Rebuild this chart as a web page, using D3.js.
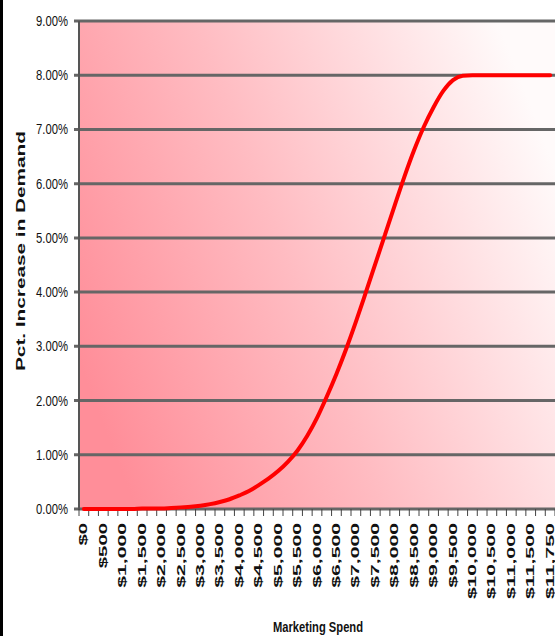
<!DOCTYPE html>
<html>
<head>
<meta charset="utf-8">
<script src="https://cdn.jsdelivr.net/npm/d3@7"></script>
<style>
  html, body { margin: 0; padding: 0; background: #ffffff; }
  svg { display: block; }
  text { font-family: "Liberation Sans", Arial, sans-serif; fill: #111; }
</style>
</head>
<body>
<svg id="chart" width="555" height="636"></svg>
<script>
// Marketing spend levels (category axis, $250 steps)
const spendLevels = [
  0, 250, 500, 750, 1000, 1250, 1500, 1750, 2000, 2250, 2500, 2750,
  3000, 3250, 3500, 3750, 4000, 4250, 4500, 4750, 5000, 5250, 5500, 5750,
  6000, 6250, 6500, 6750, 7000, 7250, 7500, 7750, 8000, 8250, 8500, 8750,
  9000, 9250, 9500, 9750, 10000, 10250, 10500, 10750, 11000, 11250, 11500, 11750, 12000
];

// Percent increase in demand at each spend level
const demandPct = [
  0.00, 0.00, 0.00, 0.00, 0.00, 0.00, 0.01, 0.01, 0.01, 0.02, 0.03, 0.04,
  0.06, 0.09, 0.13, 0.18, 0.25, 0.33, 0.44, 0.56, 0.70, 0.87, 1.08, 1.35,
  1.68, 2.07, 2.49, 2.95, 3.45, 3.98, 4.52, 5.06, 5.60, 6.13, 6.62, 7.05,
  7.41, 7.71, 7.91, 7.99, 8.00, 8.00, 8.00, 8.00, 8.00, 8.00, 8.00, 8.00, 8.00
];

// Labelled categories on the x axis (every other level)
const xTickLabels = [
  "$0", "$500", "$1,000", "$1,500", "$2,000", "$2,500", "$3,000", "$3,500",
  "$4,000", "$4,500", "$5,000", "$5,500", "$6,000", "$6,500", "$7,000", "$7,500",
  "$8,000", "$8,500", "$9,000", "$9,500", "$10,000", "$10,500", "$11,000", "$11,500", "$11,750"
];

const yTicks = [0, 1, 2, 3, 4, 5, 6, 7, 8, 9];

const svg = d3.select("#chart");
const plot = { left: 79, right: 555, top: 21, bottom: 509 };

const x = d3.scaleBand()
  .domain(d3.range(spendLevels.length))
  .range([plot.left, plot.right])
  .paddingInner(0).paddingOuter(0);

const y = d3.scaleLinear()
  .domain([0, 9])
  .range([plot.bottom, plot.top]);

// Left frame edge
svg.append("rect")
  .attr("x", 0).attr("y", 0).attr("width", 3).attr("height", 636)
  .attr("fill", "#000");

// Plot background gradient
const defs = svg.append("defs");
const grad = defs.append("linearGradient")
  .attr("id", "bgGrad")
  .attr("x1", "0").attr("y1", "0.7")
  .attr("x2", "1").attr("y2", "0.3");
grad.append("stop").attr("offset", "0").attr("stop-color", "#ff8e99");
grad.append("stop").attr("offset", "0.45").attr("stop-color", "#ffbcc2");
grad.append("stop").attr("offset", "1").attr("stop-color", "#fffafa");

svg.append("rect")
  .attr("x", plot.left).attr("y", plot.top)
  .attr("width", plot.right - plot.left)
  .attr("height", plot.bottom - plot.top)
  .attr("fill", "url(#bgGrad)");

// Horizontal gridlines
svg.append("g")
  .selectAll("line")
  .data(yTicks)
  .join("line")
  .attr("x1", plot.left - 5).attr("x2", plot.right)
  .attr("y1", d => y(d)).attr("y2", d => y(d))
  .attr("stroke", "#666")
  .attr("stroke-width", 3);

// Y axis line
svg.append("line")
  .attr("x1", plot.left).attr("x2", plot.left)
  .attr("y1", plot.top).attr("y2", plot.bottom + 1)
  .attr("stroke", "#555").attr("stroke-width", 2);

// X axis tick marks at category boundaries
const boundaries = d3.range(spendLevels.length + 1).map(i => plot.left + i * x.bandwidth());
svg.append("g")
  .selectAll("line")
  .data(boundaries)
  .join("line")
  .attr("x1", d => d).attr("x2", d => d)
  .attr("y1", plot.bottom).attr("y2", plot.bottom + 7)
  .attr("stroke", "#444").attr("stroke-width", 1);

// Y tick labels
svg.append("g")
  .selectAll("text")
  .data(yTicks)
  .join("text")
  .attr("x", 68)
  .attr("y", d => y(d))
  .attr("dy", "0.36em")
  .attr("text-anchor", "end")
  .attr("font-size", 14)
  .attr("textLength", 32)
  .attr("lengthAdjust", "spacingAndGlyphs")
  .text(d => d3.format(".2f")(d) + "%");

// X tick labels (rotated)
svg.append("g")
  .selectAll("text")
  .data(xTickLabels)
  .join("text")
  .attr("transform", (d, i) => `translate(${x(i * 2) + x.bandwidth() / 2},523) rotate(-90)`)
  .attr("dy", "0.36em")
  .attr("text-anchor", "end")
  .attr("font-size", 10)
  .attr("font-weight", "bold")
  .attr("textLength", d => d.length * 11.3 - (d.includes(",") ? 3 : 0))
  .attr("lengthAdjust", "spacingAndGlyphs")
  .text(d => d);

// Axis titles
svg.append("text")
  .attr("x", 318).attr("y", 632)
  .attr("text-anchor", "middle")
  .attr("font-size", 14)
  .attr("font-weight", "bold")
  .attr("textLength", 90)
  .attr("lengthAdjust", "spacingAndGlyphs")
  .text("Marketing Spend");

svg.append("text")
  .attr("transform", "translate(21,251) rotate(-90)")
  .attr("dy", "0.36em")
  .attr("text-anchor", "middle")
  .attr("font-size", 12)
  .attr("font-weight", "bold")
  .attr("textLength", 240)
  .attr("lengthAdjust", "spacingAndGlyphs")
  .text("Pct. Increase in Demand");

// Demand response curve
const line = d3.line()
  .x((d, i) => x(i) + x.bandwidth() / 2)
  .y(d => y(d))
  .curve(d3.curveMonotoneX);

svg.append("path")
  .datum(demandPct)
  .attr("d", line)
  .attr("fill", "none")
  .attr("stroke", "#ff0000")
  .attr("stroke-width", 4)
  .attr("stroke-linecap", "round")
  .attr("stroke-linejoin", "round");
</script>
</body>
</html>
